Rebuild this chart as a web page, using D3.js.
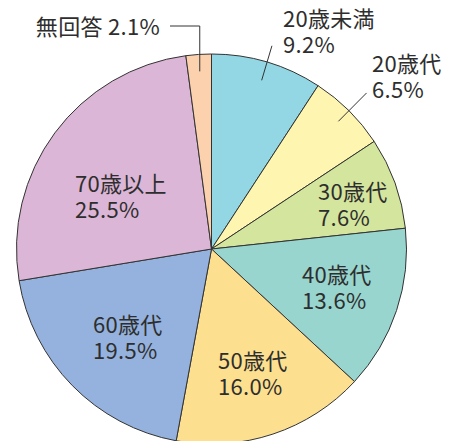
<!DOCTYPE html>
<html>
<head>
<meta charset="utf-8">
<script src="https://cdn.jsdelivr.net/npm/d3@7"></script>
<style>
html,body{margin:0;padding:0;background:#fff;}
svg{display:block;}
text{font-family:"Noto Sans CJK JP","Noto Sans",sans-serif;fill:#2e2e2e;}
</style>
</head>
<body>
<svg id="chart" width="449" height="441"></svg>
<script>
// Data
const categories = ["20歳未満","20歳代","30歳代","40歳代","50歳代","60歳代","70歳以上","無回答"];
const values = [9.2, 6.5, 7.6, 13.6, 16.0, 19.5, 25.5, 2.1];
const colors = ["#92d7e3","#fef6b0","#d4e59d","#98d5cf","#fde08f","#94b2dd","#dcb6d6","#fcd2ae"];

// Layout (label anchor positions, not data)
const cx = 211.5, cy = 249, R = 195;
const labelPos = [
  {x:283, y:27, two:true},
  {x:372, y:72, two:true},
  {x:318, y:200, two:true},
  {x:302, y:283, two:true},
  {x:218, y:369, two:true},
  {x:93, y:333, two:true},
  {x:75, y:192, two:true},
  {x:160, y:35, two:false}
];
const leaders = {0:{r0:176,r1:212}, 1:{r0:180,r1:220}};

const svg = d3.select("#chart");
const g = svg.append("g").attr("transform", `translate(${cx},${cy})`);

const pie = d3.pie().sort(null).value(d => d.v);
const arcs = pie(values.map((v,i) => ({v, i})));
const arc = d3.arc().innerRadius(0).outerRadius(R);

g.selectAll("path").data(arcs).join("path")
  .attr("d", arc)
  .attr("fill", d => colors[d.data.i])
  .attr("stroke", "#333")
  .attr("stroke-width", 1)
  .attr("stroke-linejoin", "round");

function pt(a, r){ return [r*Math.sin(a), -r*Math.cos(a)]; }

// Radial leader lines
Object.entries(leaders).forEach(([k, L]) => {
  const d = arcs[+k];
  const m = (d.startAngle + d.endAngle)/2;
  const p0 = pt(m, L.r0), p1 = pt(m, L.r1);
  g.append("line").attr("x1",p0[0]).attr("y1",p0[1]).attr("x2",p1[0]).attr("y2",p1[1])
    .attr("stroke","#333").attr("stroke-width",1);
});

// 無回答 elbow leader
{
  const d = arcs[7];
  const m = (d.startAngle + d.endAngle)/2;
  const p0 = pt(m, 178);
  const yTop = 26 - cy;
  g.append("path")
    .attr("d", `M${p0[0]},${p0[1]} V${yTop} H${170-cx}`)
    .attr("fill","none").attr("stroke","#333").attr("stroke-width",1);
}

const fs = 22;
arcs.forEach((d, i) => {
  const lp = labelPos[i];
  const pct = values[i].toFixed(1) + "%";
  if (lp.two) {
    svg.append("text").attr("x", lp.x).attr("y", lp.y)
      .attr("font-size", fs).attr("letter-spacing", 0.3).text(categories[i]);
    svg.append("text").attr("x", lp.x).attr("y", lp.y + 26)
      .attr("font-size", fs).attr("letter-spacing", 0.3).text(pct);
  } else {
    svg.append("text").attr("x", lp.x).attr("y", lp.y)
      .attr("text-anchor","end")
      .attr("font-size", fs).attr("letter-spacing", 0.3)
      .text(categories[i] + " " + pct);
  }
});
</script>
</body>
</html>
